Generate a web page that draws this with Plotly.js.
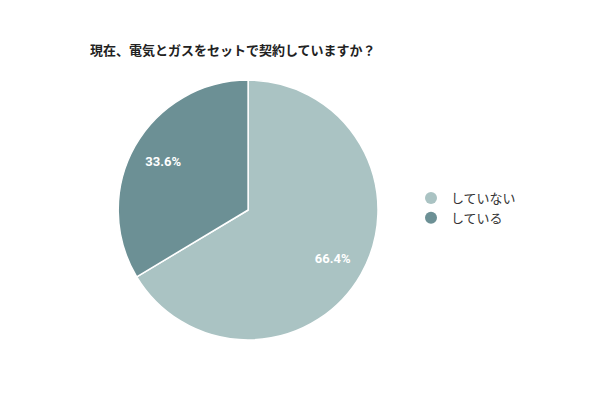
<!DOCTYPE html>
<html>
<head>
<meta charset="utf-8">
<script src="https://cdn.plot.ly/plotly-3.0.1.min.js"></script>
<style>
  body { margin: 0; background: #fff; }
  #chart { width: 600px; height: 400px; }
</style>
</head>
<body>
<div id="chart"></div>
<script>
var title = '現在、電気とガスをセットで契約していますか？';
var labels = ['していない', 'している'];
var values = [66.4, 33.6];
var colors = ['#aac3c3', '#6c9095'];

var font = '"Noto Sans CJK JP", "Noto Sans", sans-serif';
var pieDomain = { x: [0.197, 0.63], y: [0.15, 0.80] };

// full pie, plus a see-through ring on top that only carries the labels further out
var data = [{
    type: 'pie',
    labels: labels,
    values: values,
    sort: false,
    direction: 'clockwise',
    rotation: 0,
    marker: { colors: colors, line: { color: '#ffffff', width: 1.5 } },
    textinfo: 'none',
    hoverinfo: 'none',
    showlegend: false,
    domain: pieDomain
}, {
    type: 'pie',
    labels: labels,
    values: values,
    hole: 0.5,
    sort: false,
    direction: 'clockwise',
    rotation: 0,
    marker: { colors: ['rgba(0,0,0,0)', 'rgba(0,0,0,0)'], line: { width: 0 } },
    texttemplate: '<b>%{value:.1f}%</b>',
    textposition: 'inside',
    insidetextorientation: 'horizontal',
    insidetextfont: { color: '#ffffff', size: 13, family: 'Roboto, "Noto Sans", sans-serif' },
    hoverinfo: 'none',
    showlegend: false,
    domain: pieDomain
}];

// legend entries drawn with round markers
labels.forEach(function (name, i) {
    data.push({
        type: 'scatter',
        mode: 'markers',
        x: [null],
        y: [null],
        name: name,
        marker: { symbol: 'circle', size: 12, color: colors[i] },
        hoverinfo: 'none'
    });
});

var layout = {
    width: 600,
    height: 400,
    margin: { l: 0, r: 0, t: 0, b: 0 },
    paper_bgcolor: '#ffffff',
    plot_bgcolor: '#ffffff',
    font: { family: font, color: '#333333' },
    title: {
        text: '<b>' + title + '</b>',
        font: { size: 13, color: '#222222', family: font },
        x: 90 / 600,
        xanchor: 'left',
        xref: 'paper',
        y: 1 - 50 / 400,
        yanchor: 'middle',
        yref: 'container'
    },
    xaxis: { visible: false },
    yaxis: { visible: false },
    showlegend: true,
    legend: {
        x: 0.685,
        xanchor: 'left',
        y: 0.48,
        yanchor: 'middle',
        font: { size: 13, color: '#333333', family: font },
        itemsizing: 'trace',
        traceorder: 'normal',
        tracegroupgap: 0
    }
};

Plotly.newPlot('chart', data, layout, { displayModeBar: false, staticPlot: true });
</script>
</body>
</html>
